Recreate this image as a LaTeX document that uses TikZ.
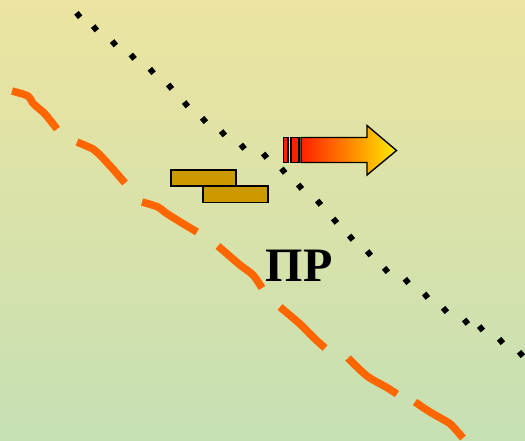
\documentclass[tikz,border=0pt]{standalone}
\usepackage{fontspec}
\newfontfamily\cyrserif{Liberation Serif}
\begin{document}
\begin{tikzpicture}[x=1pt,y=-1pt,
  dot/.style={fill=black,inner sep=0pt,minimum size=5.8pt,rotate=40,rectangle},
  orangedash/.style={draw=orangeline,line width=7.5pt,line cap=butt,line join=round},
  blockbox/.style={fill=goldfill,draw=black,line width=1.5pt},
  barbox/.style={fill=arrowred,draw=black,line width=1.3pt}]
\definecolor{bgtop}{RGB}{236,228,160}
\definecolor{bgbottom}{RGB}{198,224,180}
\definecolor{orangeline}{RGB}{255,102,0}
\definecolor{goldfill}{RGB}{204,153,0}
\definecolor{arrowred}{RGB}{255,32,0}
\definecolor{arrowyellow}{RGB}{255,236,0}
% background
\useasboundingbox (0,0) rectangle (525,440);
\shade[top color=bgtop,bottom color=bgbottom] (0,0) rectangle (525,440);

% dotted line
\foreach \p [count=\i] in {(78.3,15),(95,28.3),(114,43.3),(132.7,56.7),(151.7,71),
  (170,86.7),(186,104.3),(204,120),(223,133.3),(242.7,146.7),(265,155.7),
  (283.3,170.7),(300,186.7),(319,202.7),(335,220.7),(351,237.7),(369,253.3),
  (386,270),(406.7,281),(426,295.7),(445,310),(466,321.7),(481,328.3),
  (501,341),(521,354)}
  \node[dot] (d\i) at \p {};

% orange dashed wavy line
\draw[orangedash] plot[smooth,tension=0.5] coordinates {(12,91) (28,96) (32,102) (37,107) (45,114) (57,129)};
\draw[orangedash] plot[smooth,tension=0.5] coordinates {(77,142) (93,149) (99,154) (112,168) (125,183)};
\draw[orangedash] plot[smooth,tension=0.5] coordinates {(142,202) (158,207) (166,213) (182,223) (197,232)};
\draw[orangedash] plot[smooth,tension=0.5] coordinates {(218,246) (240,265) (253,275) (262,288)};
\draw[orangedash] plot[smooth,tension=0.5] coordinates {(280,307) (300,324) (313,337) (325,348)};
\draw[orangedash] plot[smooth,tension=0.5] coordinates {(348,358) (367,376) (386,387) (397,394)};
\draw[orangedash] plot[smooth,tension=0.5] coordinates {(415,402) (430,412) (449,423) (456,430) (463,438)};

% two blocks
\draw[blockbox] (171,170) rectangle (236,186);
\draw[blockbox] (203,186) rectangle (268,202.5);

% arrow with bars
\draw[barbox] (283.5,137.5) rectangle (288,162.5);
\draw[barbox] (291,137.5) rectangle (299,162.5);
\shadedraw[left color=arrowred,right color=arrowyellow,draw=black,line width=1.4pt,line join=miter]
  (301,137.5) -- (367,137.5) -- (367,125.5) -- (396.5,150.5) -- (367,175) -- (367,162.5) -- (301,162.5) -- cycle;

% label
\node[anchor=base,inner sep=0pt,font=\cyrserif\bfseries\fontsize{48}{48}\selectfont] (lbl) at (299,281.5) {ПР};
\end{tikzpicture}
\end{document}
